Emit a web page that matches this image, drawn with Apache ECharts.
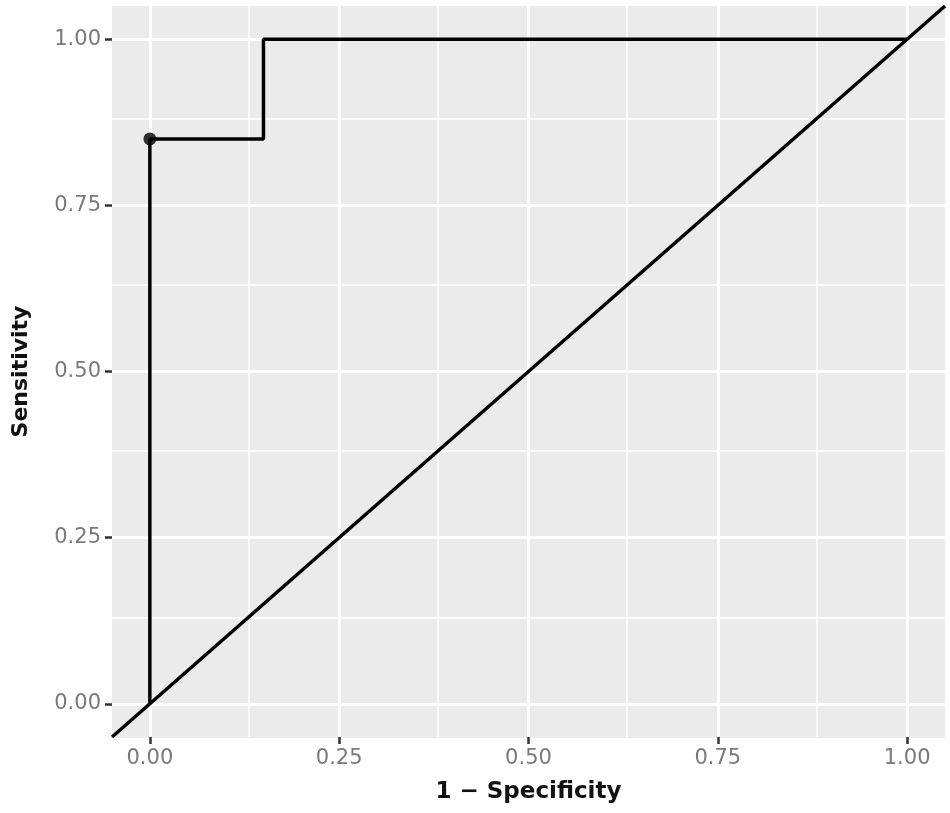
<!DOCTYPE html>
<html>
<head>
<meta charset="utf-8">
<script src="https://cdn.jsdelivr.net/npm/echarts@6/dist/echarts.min.js"></script>
<style>
  html, body { margin: 0; padding: 0; background: #fff; }
  #chart { width: 950px; height: 813px; }
</style>
</head>
<body>
<div id="chart"></div>
<script>
// ROC curve points
const fpr = [0, 0, 0.15, 0.15, 1]
const tpr = [0, 0.85, 0.85, 1, 1]
// best threshold point
const bestPoint = [0, 0.85]
// axis range and ticks
const axisLimits = [-0.05, 1.05]
const majorTicks = [0, 0.25, 0.5, 0.75, 1]
const minorTicks = [0.125, 0.375, 0.625, 0.875]

const chart = echarts.init(document.getElementById('chart'))

const labelStyle = {
  color: '#7a7a7a',
  fontSize: 21,
  fontFamily: 'DejaVu Sans',
  margin: 11,
  formatter: v => Number(v).toFixed(2)
}
const tickStyle = { length: 7, lineStyle: { color: '#333', width: 2.5 } }
const axisLineStyle = { show: true, onZero: false, lineStyle: { color: '#ebebeb', width: 1 } }

const gridLines = (axis, values, width) => values.map(v => ({
  [axis]: v,
  lineStyle: { color: '#ffffff', width, type: 'solid' }
}))

chart.setOption({
  animation: false,
  grid: {
    left: 112, right: 5, top: 6, bottom: 76,
    outerBoundsMode: 'none',
    containLabel: false,
    show: true, backgroundColor: '#ebebeb', borderWidth: 0
  },
  xAxis: {
    type: 'value',
    min: axisLimits[0],
    max: axisLimits[1],
    name: '1 − Specificity',
    nameLocation: 'middle',
    nameGap: 44,
    nameTextStyle: { color: '#111', fontSize: 23, fontWeight: 'bold', fontFamily: 'DejaVu Sans' },
    axisLine: axisLineStyle,
    axisTick: { show: true, customValues: majorTicks, ...tickStyle },
    axisLabel: { customValues: majorTicks, ...labelStyle },
    splitLine: { show: false }
  },
  yAxis: {
    type: 'value',
    min: axisLimits[0],
    max: axisLimits[1],
    name: 'Sensitivity',
    nameLocation: 'middle',
    nameGap: 80,
    nameTextStyle: { color: '#111', fontSize: 22, fontWeight: 'bold', fontFamily: 'DejaVu Sans' },
    axisLine: axisLineStyle,
    axisTick: { show: true, customValues: majorTicks, ...tickStyle },
    axisLabel: { customValues: majorTicks, ...labelStyle },
    splitLine: { show: false }
  },
  series: [
    {
      name: 'grid',
      type: 'line',
      data: [],
      silent: true,
      z: 1,
      markLine: {
        z: 1,
        silent: true,
        symbol: 'none',
        label: { show: false },
        animation: false,
        data: [
          ...gridLines('xAxis', minorTicks, 1.5),
          ...gridLines('yAxis', minorTicks, 1.5),
          ...gridLines('xAxis', majorTicks, 3),
          ...gridLines('yAxis', majorTicks, 3)
        ]
      }
    },
    {
      name: 'ROC',
      type: 'line',
      z: 3,
      data: fpr.map((x, i) => [x, tpr[i]]),
      showSymbol: false,
      symbol: 'none',
      lineStyle: { color: '#000', width: 3.5 }
    },
    {
      name: 'reference',
      type: 'line',
      z: 3,
      data: axisLimits.map(v => [v, v]),
      symbol: 'none',
      lineStyle: { color: '#000', width: 3.5 }
    },
    {
      name: 'best',
      type: 'scatter',
      z: 4,
      data: [bestPoint],
      symbolSize: 13,
      itemStyle: { color: '#000' }
    }
  ]
})
</script>
</body>
</html>
